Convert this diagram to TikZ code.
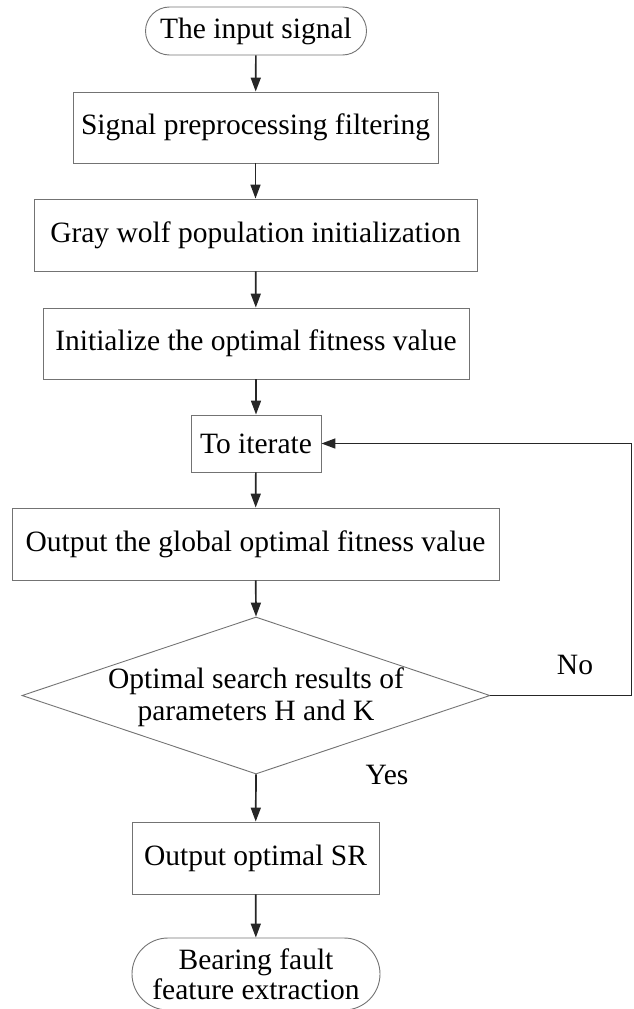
\documentclass[tikz,border=0pt]{standalone}
\usepackage{fontspec}
\setmainfont{Liberation Serif}
\usetikzlibrary{arrows.meta,shapes.geometric,shapes.misc}
\begin{document}
\begin{tikzpicture}[x=1pt,y=-1pt,
  every node/.style={font=\fontsize{29.5}{31}\selectfont, inner sep=0pt},
  procbox/.style={draw=black!55, line width=0.9pt, rectangle},
  termbox/.style={draw=black!55, line width=0.9pt, rounded rectangle},
  decbox/.style={draw=black!55, line width=0.9pt, diamond, minimum width=468pt, minimum height=157pt},
  flow/.style={draw=black!85, line width=1.7pt, -{Triangle[length=14pt,width=10pt]}},
  loopline/.style={draw=black!85, line width=1.7pt}
]
\useasboundingbox (0,0) rectangle (633,1009);

\node[termbox, minimum width=221pt, minimum height=48pt] (start) at (256,31) {The input signal};
\node[procbox, minimum width=365pt, minimum height=71pt] (n1) at (255.5,127.5) {Signal preprocessing filtering};
\node[procbox, minimum width=443pt, minimum height=72pt] (n2) at (255.5,235) {Gray wolf population initialization};
\node[procbox, minimum width=426pt, minimum height=71pt] (n3) at (256,343.5) {Initialize the optimal fitness value};
\node[procbox, minimum width=130pt, minimum height=57pt] (n4) at (256,443.5) {To iterate};
\node[procbox, minimum width=487pt, minimum height=72pt] (n5) at (255.5,544) {Output the global optimal fitness value};
\node[decbox] (d) at (256,695.5) {};
\node[align=center, font=\fontsize{29.5}{32}\selectfont] (dt) at (256,697) {Optimal search results of\\parameters H and K};
\node[procbox, minimum width=247pt, minimum height=72pt] (n6) at (255.5,858) {Output optimal SR};
\node[termbox, minimum width=248pt, minimum height=72pt, align=center, font=\fontsize{29.5}{30}\selectfont] (end) at (256,974) {Bearing fault\\feature extraction};

\node (no) at (575,665) {No};
\node (yes) at (387,775) {Yes};

\draw[flow] (start) -- (n1);
\draw[flow] (n1) -- (n2);
\draw[flow] (n2) -- (n3);
\draw[flow] (n3) -- (n4);
\draw[flow] (n4) -- (n5);
\draw[flow] (n5) -- (d.north);
\draw[flow] (d.south) -- (n6);
\draw[flow] (n6) -- (end);
\draw[flow] (d.east) -- ++(141,0) |- (n4.east);
\end{tikzpicture}
\end{document}
